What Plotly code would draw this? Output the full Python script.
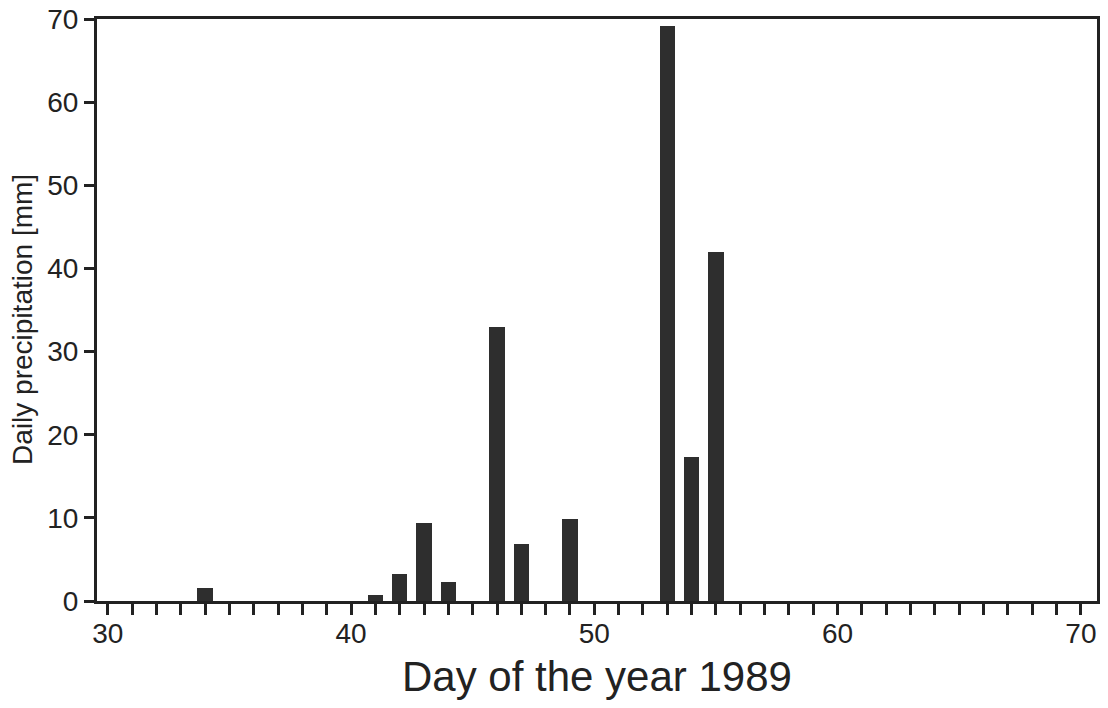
import plotly.graph_objects as go

days = [34, 41, 42, 43, 44, 46, 47, 49, 53, 54, 55]
precip_mm = [1.6, 0.7, 3.3, 9.4, 2.3, 32.9, 6.9, 9.9, 69.1, 17.3, 42.0]

x_tick_vals = [30, 40, 50, 60, 70]
y_tick_vals = [0, 10, 20, 30, 40, 50, 60, 70]

x_title = "Day of the year 1989"
y_title = "Daily precipitation [mm]"

ink = "#222222"
font_family = "Liberation Sans, Arial, Helvetica, sans-serif"

fig = go.Figure()
fig.add_trace(go.Bar(
    x=days, y=precip_mm, width=0.62,
    marker=dict(color="#2e2e2e", line=dict(width=0)),
    showlegend=False,
))

fig.update_layout(
    width=1108, height=708,
    margin=dict(l=97, r=11, t=19, b=107, autoexpand=False),
    plot_bgcolor="white", paper_bgcolor="white",
    font=dict(family=font_family, color=ink),
    bargap=0,
)

fig.update_xaxes(
    range=[29.56, 70.66],
    tickvals=x_tick_vals,
    ticks="outside", ticklen=11, tickwidth=2.5, tickcolor=ink,
    minor=dict(dtick=1, tick0=0, ticks="outside", ticklen=11, tickwidth=2.5, tickcolor=ink),
    showline=True, linewidth=3, linecolor=ink, mirror=True,
    showgrid=False, zeroline=False, automargin=False,
    ticklabelstandoff=-6,
    tickfont=dict(size=28, color=ink, family=font_family),
)
fig.update_yaxes(
    range=[0, 70],
    tickvals=y_tick_vals,
    ticks="outside", ticklen=10, tickwidth=2.5, tickcolor=ink,
    showline=True, linewidth=3, linecolor=ink, mirror=True,
    showgrid=False, zeroline=False, automargin=False,
    tickfont=dict(size=28, color=ink, family=font_family),
)

fig.add_annotation(
    text=y_title, xref="paper", yref="paper",
    x=-0.074, y=0.483, xanchor="center", yanchor="middle",
    textangle=-90, showarrow=False,
    font=dict(size=28, color=ink, family=font_family),
)
fig.add_annotation(
    text=x_title, xref="paper", yref="paper",
    x=0.5, y=-0.13, xanchor="center", yanchor="middle",
    showarrow=False,
    font=dict(size=42, color=ink, family=font_family),
)

fig.write_html(
    "out.html",
    config={"displayModeBar": False},
    post_script="document.body.style.margin='0';document.body.style.overflow='hidden';",
)
